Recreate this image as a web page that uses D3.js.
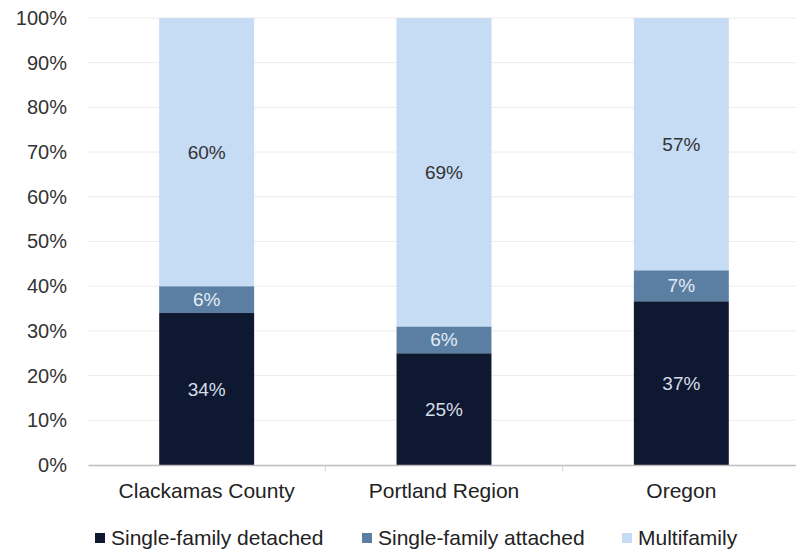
<!DOCTYPE html>
<html><head><meta charset="utf-8">
<script src="https://cdn.jsdelivr.net/npm/d3@7"></script>
<style>body{margin:0;background:#fff}svg{display:block}text{font-family:"Liberation Sans",Arial,sans-serif}</style>
</head><body><svg id="c" width="796" height="553"></svg>
<script>
const categories = ["Clackamas County", "Portland Region", "Oregon"];
const seriesNames = ["Single-family detached", "Single-family attached", "Multifamily"];
const detached = [34, 25, 37];
const attached = [6, 6, 7];
const multifamily = [60, 69, 57];
const yTicks = [0, 0.1, 0.2, 0.3, 0.4, 0.5, 0.6, 0.7, 0.8, 0.9, 1];
const colors = ["#0e1830", "#5a7fa3", "#c6dbf4"];
const labelColors = ["#d5dde8", "#e3ebf4", "#333333"];

const svg = d3.select("#c");
const x = d3.scaleBand().domain(categories).range([88, 800]).padding(0);
const y = d3.scaleLinear().domain([0, 1]).range([465, 18]);
const barW = x.bandwidth() * 0.4;

const rows = categories.map((c, i) => ({cat: c, s0: detached[i], s1: attached[i], s2: multifamily[i]}));
const stack = d3.stack().keys(["s0", "s1", "s2"]).offset(d3.stackOffsetExpand);
const layers = stack(rows);

// gridlines
svg.append("g").selectAll("line").data(yTicks.slice(1)).join("line")
  .attr("x1", 88).attr("x2", 796).attr("y1", d => y(d)).attr("y2", d => y(d))
  .attr("stroke", "#ececec").attr("stroke-width", 1);

// y axis labels
const yAxis = d3.axisLeft(y).tickValues(yTicks).tickFormat(d3.format(".0%")).tickSize(0).tickPadding(0);
const gy = svg.append("g").attr("transform", "translate(67,0)").call(yAxis);
gy.select(".domain").remove();
gy.selectAll("text").attr("font-size", 20).attr("fill", "#333").attr("font-family", "Liberation Sans, Arial, sans-serif");

// bars
layers.forEach((layer, li) => {
  svg.append("g").selectAll("rect").data(layer).join("rect")
    .attr("x", d => x(d.data.cat) + (x.bandwidth() - barW) / 2)
    .attr("width", barW)
    .attr("y", d => y(d[1]))
    .attr("height", d => y(d[0]) - y(d[1]))
    .attr("fill", colors[li]);
  svg.append("g").selectAll("text").data(layer).join("text")
    .attr("x", d => x(d.data.cat) + x.bandwidth() / 2)
    .attr("y", d => (y(d[0]) + y(d[1])) / 2)
    .attr("dy", "0.35em")
    .attr("text-anchor", "middle")
    .attr("font-size", 19)
    .attr("fill", labelColors[li])
    .text(d => d.data["s" + li] + "%");
});

// x axis
const xAxis = d3.axisBottom(x).tickSize(0).tickPadding(18);
const gx = svg.append("g").attr("transform", "translate(0,465)").call(xAxis);
gx.select(".domain").attr("stroke", "#bdbdbd").attr("stroke-width", 1.5);
gx.selectAll("text").attr("font-size", 21).attr("fill", "#222").attr("font-family", "Liberation Sans, Arial, sans-serif");
svg.append("g").selectAll("line").data(categories.slice(1)).join("line")
  .attr("x1", d => x(d)).attr("x2", d => x(d)).attr("y1", 465).attr("y2", 471)
  .attr("stroke", "#cfcfcf");

// legend
const legX = [95, 362, 622];
const lg = svg.append("g").selectAll("g").data(seriesNames).join("g")
  .attr("transform", (d, i) => `translate(${legX[i]},538)`);
lg.append("rect").attr("x", 0).attr("y", -5).attr("width", 10).attr("height", 10)
  .attr("fill", (d, i) => colors[i]);
lg.append("text").attr("x", 16).attr("dy", "0.35em").attr("font-size", 21).attr("fill", "#222").text(d => d);
</script></body></html>
